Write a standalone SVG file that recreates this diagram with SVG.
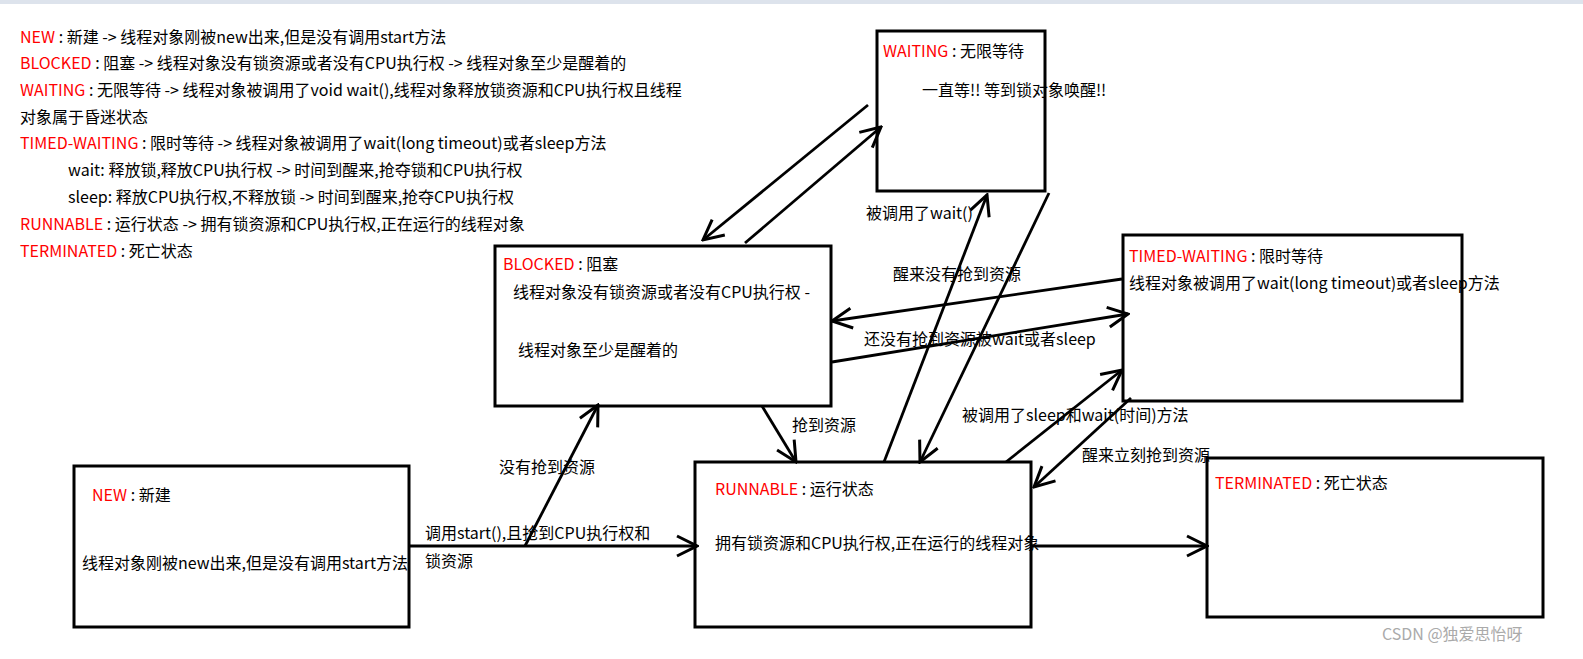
<svg xmlns="http://www.w3.org/2000/svg" width="1583" height="659" viewBox="0 0 1583 659">
<defs>
<marker id="a" viewBox="0 0 24 24" refX="22" refY="12" markerWidth="24" markerHeight="24" markerUnits="userSpaceOnUse" orient="auto"><path d="M2,2 L22,12 L2,22" fill="none" stroke="#000" stroke-width="3"/></marker>
<style>
text{font-family:"Noto Sans CJK SC","Noto Sans",sans-serif;font-size:16px;fill:#000}
.r{fill:#f00}
.box{fill:#fff;stroke:#000;stroke-width:3}
.c line{stroke:#000;stroke-width:2.8;marker-end:url(#a)}
</style>
</defs>
<rect width="1583" height="659" fill="#fff"/>
<rect width="1583" height="4" fill="#dde3ec"/>
<g id="legend">
<text x="20" y="43"><tspan class="r">NEW</tspan> : 新建 -&gt; 线程对象刚被new出来,但是没有调用start方法</text>
<text x="20" y="69"><tspan class="r">BLOCKED</tspan> : 阻塞 -&gt; 线程对象没有锁资源或者没有CPU执行权 -&gt; 线程对象至少是醒着的</text>
<text x="20" y="96"><tspan class="r">WAITING</tspan> : 无限等待 -&gt; 线程对象被调用了void wait(),线程对象释放锁资源和CPU执行权且线程</text>
<text x="20" y="123">对象属于昏迷状态</text>
<text x="20" y="149"><tspan class="r">TIMED-WAITING</tspan> : 限时等待 -&gt; 线程对象被调用了wait(long timeout)或者sleep方法</text>
<text x="68" y="176">wait: 释放锁,释放CPU执行权 -&gt; 时间到醒来,抢夺锁和CPU执行权</text>
<text x="68" y="203">sleep: 释放CPU执行权,不释放锁 -&gt; 时间到醒来,抢夺CPU执行权</text>
<text x="20" y="230"><tspan class="r">RUNNABLE</tspan> : 运行状态 -&gt; 拥有锁资源和CPU执行权,正在运行的线程对象</text>
<text x="20" y="257"><tspan class="r">TERMINATED</tspan> : 死亡状态</text>
</g>
<g id="waiting"><rect class="box" x="877" y="31" width="168" height="160"/>
<text x="883" y="57"><tspan class="r">WAITING</tspan> : 无限等待</text>
<text x="922" y="96">一直等!! 等到锁对象唤醒!!</text></g>
<g id="blocked"><rect class="box" x="495" y="246" width="336" height="160"/>
<text x="503" y="270"><tspan class="r">BLOCKED</tspan> : 阻塞</text>
<text x="513" y="298">线程对象没有锁资源或者没有CPU执行权 -</text>
<text x="518" y="356">线程对象至少是醒着的</text></g>
<g id="timed"><rect class="box" x="1123" y="235" width="339" height="166"/>
<text x="1129" y="262"><tspan class="r">TIMED-WAITING</tspan> : 限时等待</text>
<text x="1129" y="289">线程对象被调用了wait(long timeout)或者sleep方法</text></g>
<g id="new"><rect class="box" x="74" y="466" width="335" height="161"/>
<text x="92" y="501"><tspan class="r">NEW</tspan> : 新建</text>
<text x="82" y="569">线程对象刚被new出来,但是没有调用start方法</text></g>
<g id="runnable"><rect class="box" x="695" y="462" width="336" height="165"/>
<text x="715" y="495"><tspan class="r">RUNNABLE</tspan> : 运行状态</text>
<text x="715" y="549">拥有锁资源和CPU执行权,正在运行的线程对象</text></g>
<g id="terminated"><rect class="box" x="1207" y="458" width="336" height="159"/>
<text x="1215" y="489"><tspan class="r">TERMINATED</tspan> : 死亡状态</text></g>
<g class="c" id="connectors">
<line x1="868" y1="105" x2="703" y2="240"/>
<line x1="745" y1="243" x2="881" y2="127"/>
<line x1="884" y1="462" x2="987" y2="195"/>
<line x1="1049" y1="193" x2="920" y2="462"/>
<line x1="1122" y1="279" x2="832" y2="321"/>
<line x1="832" y1="362" x2="1128" y2="314"/>
<line x1="1006" y1="462" x2="1122" y2="370"/>
<line x1="1131" y1="398" x2="1034" y2="487"/>
<line x1="762" y1="406" x2="796" y2="462"/>
<line x1="409" y1="546" x2="697" y2="546"/>
<line x1="525" y1="546" x2="598" y2="405"/>
<line x1="1031" y1="546" x2="1207" y2="546"/>
</g>
<g id="labels">
<text x="866" y="219">被调用了wait()</text>
<text x="893" y="280">醒来没有抢到资源</text>
<text x="864" y="345">还没有抢到资源被wait或者sleep</text>
<text x="962" y="421">被调用了sleep和wait(时间)方法</text>
<text x="1082" y="461">醒来立刻抢到资源</text>
<text x="792" y="431">抢到资源</text>
<text x="499" y="473">没有抢到资源</text>
<text x="425" y="539">调用start(),且抢到CPU执行权和</text>
<text x="425" y="567">锁资源</text>
<text x="1382" y="640" style="fill:#aaa">CSDN @独爱思怡呀</text>
</g>
</svg>
